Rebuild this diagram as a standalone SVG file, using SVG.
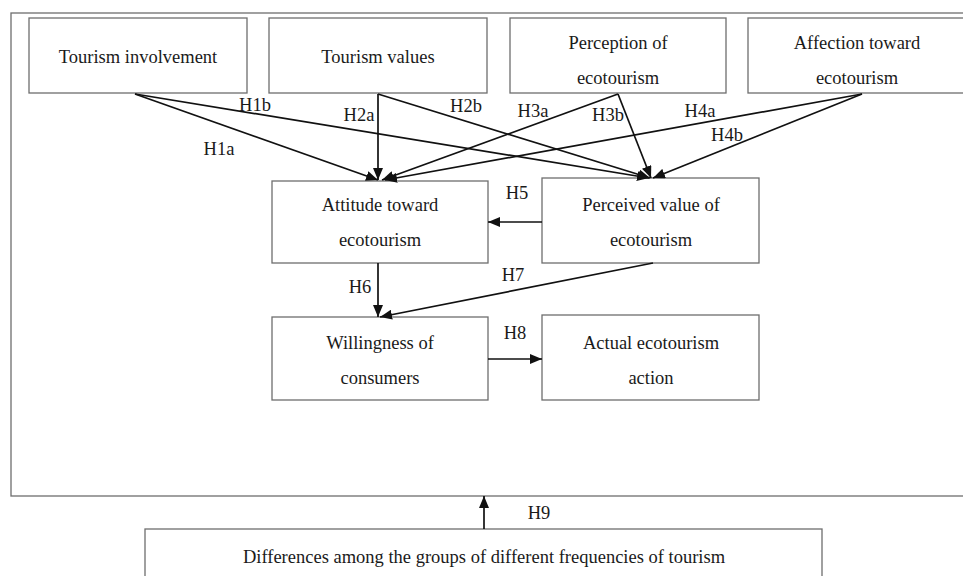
<svg xmlns="http://www.w3.org/2000/svg" width="963" height="576" viewBox="0 0 963 576">
<defs>
<marker id="ah" viewBox="0 0 12 10" refX="12" refY="5" markerWidth="12" markerHeight="10" markerUnits="userSpaceOnUse" orient="auto">
<path d="M0,0 L12,5 L0,10 Z" fill="#111"/>
</marker>
</defs>
<style>
.box{fill:#fff;stroke:#6e6e6e;stroke-width:1.3}
.frame{fill:none;stroke:#6e6e6e;stroke-width:1.3}
text{font-family:"Liberation Serif","Times New Roman",serif;font-size:18.5px;fill:#1a1a1a;text-anchor:middle}
.lbl{text-anchor:start}
.c{stroke:#111;stroke-width:1.7;fill:none;marker-end:url(#ah)}
</style>
<rect width="963" height="576" fill="#fff"/>
<rect class="frame" x="11" y="13" width="962" height="483"/>

<g id="n-involvement"><rect class="box" x="29" y="18" width="218" height="75"/><text x="138" y="63">Tourism involvement</text></g>
<g id="n-values"><rect class="box" x="269" y="18" width="218" height="75"/><text x="378" y="63">Tourism values</text></g>
<g id="n-perception"><rect class="box" x="510" y="18" width="216" height="75"/><text x="618" y="49">Perception of</text><text x="618" y="84">ecotourism</text></g>
<g id="n-affection"><rect class="box" x="748" y="18" width="230" height="75"/><text x="857" y="49">Affection toward</text><text x="857" y="84">ecotourism</text></g>
<g id="n-attitude"><rect class="box" x="272" y="181" width="216" height="82"/><text x="380" y="211">Attitude toward</text><text x="380" y="246">ecotourism</text></g>
<g id="n-perceived"><rect class="box" x="542" y="178" width="217" height="85"/><text x="651" y="211">Perceived value of</text><text x="651" y="246">ecotourism</text></g>
<g id="n-willingness"><rect class="box" x="272" y="317" width="216" height="83"/><text x="380" y="349">Willingness of</text><text x="380" y="384">consumers</text></g>
<g id="n-actual"><rect class="box" x="542" y="315" width="217" height="85"/><text x="651" y="349">Actual ecotourism</text><text x="651" y="384">action</text></g>
<g id="n-differences"><rect class="box" x="145" y="529" width="677" height="60"/><text x="484" y="563">Differences among the groups of different frequencies of tourism</text></g>

<g id="connectors">
<line class="c" x1="135" y1="94" x2="378" y2="180"/>
<line class="c" x1="135" y1="94" x2="649" y2="178"/>
<line class="c" x1="378" y1="94" x2="378" y2="180"/>
<line class="c" x1="378" y1="94" x2="650" y2="178"/>
<line class="c" x1="618" y1="94" x2="382" y2="180"/>
<line class="c" x1="618" y1="94" x2="651" y2="178"/>
<line class="c" x1="862" y1="94" x2="385" y2="180"/>
<line class="c" x1="862" y1="94" x2="653" y2="178"/>
<line class="c" x1="542" y1="222" x2="488" y2="222"/>
<line class="c" x1="378" y1="263" x2="378" y2="317"/>
<line class="c" x1="653" y1="263" x2="380" y2="317"/>
<line class="c" x1="488" y1="359" x2="542" y2="359"/>
<line class="c" x1="484" y1="529" x2="484" y2="496"/>
</g>
<g id="labels">
<text x="219" y="155">H1a</text>
<text x="255" y="111">H1b</text>
<text x="359" y="121">H2a</text>
<text x="466" y="112">H2b</text>
<text x="533" y="117">H3a</text>
<text x="608" y="121">H3b</text>
<text x="700" y="117">H4a</text>
<text x="727" y="141">H4b</text>
<text x="517" y="199">H5</text>
<text x="360" y="293">H6</text>
<text x="513" y="281">H7</text>
<text x="515" y="339">H8</text>
<text x="539" y="519">H9</text>
</g>
</svg>
